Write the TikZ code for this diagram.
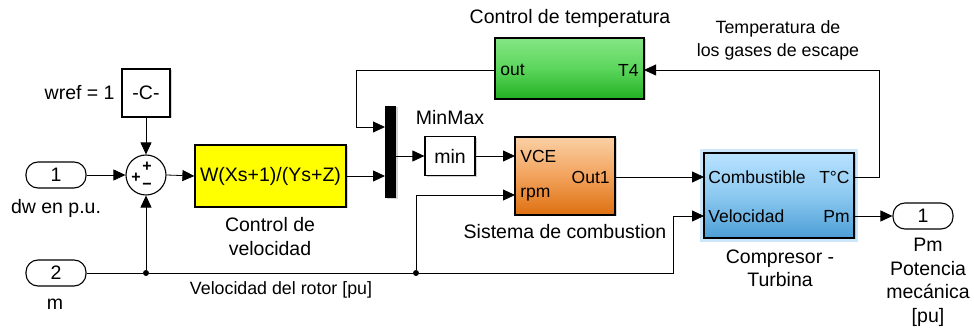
\documentclass[tikz,border=0pt]{standalone}
\usepackage{fontspec}
\setmainfont{Liberation Sans}
\usetikzlibrary{arrows.meta,shadows}
\definecolor{ylw}{RGB}{255,255,0}
\definecolor{grnT}{RGB}{132,230,132}
\definecolor{grnM}{RGB}{92,214,92}
\definecolor{grnB}{RGB}{34,176,34}
\definecolor{orgT}{RGB}{250,208,164}
\definecolor{orgM}{RGB}{242,162,92}
\definecolor{orgB}{RGB}{222,112,16}
\definecolor{bluT}{RGB}{184,226,255}
\definecolor{bluM}{RGB}{140,200,240}
\definecolor{bluB}{RGB}{76,158,214}
\definecolor{glow}{RGB}{204,230,250}
\begin{document}
\begin{tikzpicture}[x=1pt,y=-1pt,
  font=\fontsize{19.5}{23.5}\selectfont,
  line width=0.8pt,
  arr/.style={-{Triangle[length=12pt,width=11pt]}},
  blk/.style={draw, line width=1.2pt, inner sep=0pt,
    drop shadow={shadow xshift=1.5pt, shadow yshift=-1.5pt, opacity=0.35, fill=gray}},
  portbox/.style={draw, line width=1.1pt, rounded corners=12pt, inner sep=0pt,
    minimum width=60pt, minimum height=26pt},
  plbl/.style={font=\fontsize{17.5}{20}\selectfont, inner sep=0pt},
  sig/.style={font=\fontsize{17.8}{23}\selectfont, align=center, inner sep=0pt},
  ttl/.style={align=center, inner sep=0pt},
  sgn/.style={inner sep=0pt, font=\bfseries\fontsize{16}{16}\selectfont},
  dot/.style={circle, fill=black, inner sep=0pt, minimum size=6pt}]
\useasboundingbox (0,0) rectangle (974,328);

% inports
\node[portbox] (in1) at (56,175) {1};
\node[ttl] (in1l) at (56,208) {dw en p.u.};
\node[portbox] (in2) at (56,273) {2};
\node[ttl] (in2l) at (55,304) {m};

% constant
\node[blk, fill=white, minimum width=48pt, minimum height=48pt] (const) at (146,93) {-C-};
\node[ttl, anchor=east] (constl) at (115,93) {wref = 1};

% sum
\node[draw, circle, line width=1.1pt, minimum size=40pt, inner sep=0pt, fill=white] (sum) at (146,175) {};
\node[sgn] (sp1) at (147,166.5) {+};
\node[sgn] (sp2) at (136,178) {+};
\node[sgn] (sm) at (147,186.5) {\textminus};

% controller
\node[blk, fill=ylw, minimum width=151pt, minimum height=62pt] (yel) at (270.5,176) {W(Xs+1)/(Ys+Z)};
\node[ttl] (yell) at (270,236.5) {Control de\\velocidad};

% mux
\node[fill=black, minimum width=11pt, minimum height=92pt, inner sep=0pt,
  drop shadow={shadow xshift=1.5pt, shadow yshift=-1.5pt, opacity=0.35, fill=gray}] (mux) at (390.5,152) {};
\coordinate (muxin1) at (385,127);
\coordinate (muxin2) at (385,176);
\coordinate (muxout) at (396,156);

% min
\node[blk, fill=white, minimum width=50pt, minimum height=39pt] (min) at (450,156) {min};
\node[ttl] (minl) at (450,118) {MinMax};

% combustion
\node[blk, top color=orgT, bottom color=orgB, middle color=orgM, minimum width=100pt, minimum height=78pt] (org) at (565,176) {};
\node[plbl, anchor=west] (vce) at (520,156) {VCE};
\node[plbl, anchor=west] (rpm) at (520,195) {rpm};
\node[plbl, anchor=east] (out1) at (610,177) {Out1};
\node[ttl] (orgl) at (565,232) {Sistema de combustion};
\coordinate (ovce) at (515,156);
\coordinate (orpm) at (515,195);
\coordinate (oout) at (615,177);

% temperature control
\node[blk, top color=grnT, bottom color=grnB, middle color=grnM, minimum width=149pt, minimum height=61pt] (grn) at (569.5,68.5) {};
\node[plbl, anchor=west] (outl) at (500,70) {out};
\node[plbl, anchor=east] (t4) at (639,70) {T4};
\node[ttl] (grnl) at (570,18) {Control de temperatura};
\coordinate (gout) at (495,70);
\coordinate (gt4) at (644,70);

% compressor - turbine
\fill[glow] (700,149) rectangle (858,242);
\node[blk, top color=bluT, bottom color=bluB, middle color=bluM, minimum width=150pt, minimum height=85pt] (blu) at (779,195.5) {};
\node[plbl, anchor=west] (comb) at (708,177) {Combustible};
\node[plbl, anchor=east] (tc) at (850,177) {T°C};
\node[plbl, anchor=west] (vel) at (708,216) {Velocidad};
\node[plbl, anchor=east] (pm) at (850,216) {Pm};
\node[ttl] (blul) at (780,268.5) {Compresor -\\Turbina};
\coordinate (bcomb) at (704,177);
\coordinate (btc) at (854,177);
\coordinate (bvel) at (704,216);
\coordinate (bpm) at (854,216);

% outport
\node[portbox] (out) at (923,216) {1};
\node[ttl] (outl2) at (928,282.5) {Pm\\Potencia\\mecánica\\{[pu]}};

% signal labels
\node[sig] (tgl) at (778,40.5) {Temperatura de\\los gases de escape};
\node[sig] (vrl) at (281,290) {Velocidad del rotor [pu]};

% junctions
\node[dot] (j1) at (146,273) {};
\node[dot] (j2) at (416,273) {};

% connectors
\draw[arr] (in1.east) -- (sum.west);
\draw[arr] (const.south) -- (sum.north);
\draw[arr] (j1) -- (sum.south);
\draw[arr] (sum.east) -- (yel.west);
\draw[arr] (yel.east) -- (muxin2);
\draw[arr] (gout) -- ++(-139,0) |- (muxin1);
\draw[arr] (muxout) -- (min.west);
\draw[arr] (min.east) -- (ovce);
\draw[arr] (j2) |- (orpm);
\draw[arr] (oout) -- (bcomb);
\draw[arr] (btc) -- ++(25,0) |- (gt4);
\draw (in2.east) -- (j1) -- (j2);
\draw[arr] (j2) -- ++(257,0) |- (bvel);
\draw[arr] (bpm) -- (out.west);
\end{tikzpicture}
\end{document}
